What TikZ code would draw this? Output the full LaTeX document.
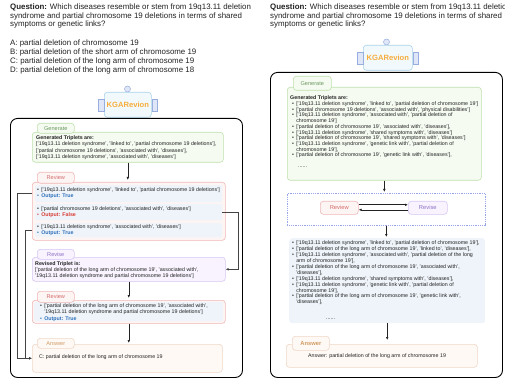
\documentclass[tikz,border=0pt]{standalone}
\usepackage{fontspec}
\setmainfont{Liberation Sans}
\usetikzlibrary{arrows.meta}

\definecolor{ink}{HTML}{222222}
\definecolor{genline}{HTML}{BEE0AC}
\definecolor{genfill}{HTML}{F5FBF1}
\definecolor{gentext}{HTML}{6E9A62}
\definecolor{revline}{HTML}{F0B6B6}
\definecolor{revfill}{HTML}{FDF4F4}
\definecolor{revtext}{HTML}{D56E6C}
\definecolor{rsline}{HTML}{D6C6F2}
\definecolor{rsfill}{HTML}{F8F3FE}
\definecolor{rstext}{HTML}{8E72C6}
\definecolor{ansline}{HTML}{F0D6C6}
\definecolor{ansfill}{HTML}{FEF9F5}
\definecolor{anstext}{HTML}{D09A62}
\definecolor{itemfill}{HTML}{EEF4FA}
\definecolor{truecol}{HTML}{2F6FBA}
\definecolor{falsecol}{HTML}{D93A33}
\definecolor{kgline}{HTML}{A9D3EA}
\definecolor{kgfill}{HTML}{F2F9FD}
\definecolor{kgtabline}{HTML}{98AEDE}
\definecolor{kgtabfill}{HTML}{DFE6F7}
\definecolor{kgtext}{HTML}{F6AD3C}
\definecolor{loopline}{HTML}{9AA6EA}

\tikzset{
  txt/.style={anchor=base west, inner sep=0pt, text=ink},
  small/.style={txt, font=\fontsize{5.3}{6}\selectfont},
  frame/.style={anchor=north west, inner sep=0pt, rounded corners=3pt, line width=0.6pt},
  panel/.style={frame, draw=black, line width=0.9pt, rounded corners=7pt},
  genbox/.style={frame, draw=genline, fill=genfill},
  revbox/.style={frame, draw=revline, fill=revfill},
  rsbox/.style={frame, draw=rsline, fill=rsfill},
  ansbox/.style={frame, draw=ansline, fill=ansfill},
  itembox/.style={anchor=north west, inner sep=0pt, rounded corners=2pt, fill=itemfill},
  tab/.style={frame, rounded corners=3pt, font=\fontsize{5.6}{6}\selectfont},
  kgbox/.style={frame, draw=kgline, fill=kgfill, text=kgtext, font=\fontsize{7.6}{8}\selectfont\bfseries},
  kgtab/.style={inner sep=0pt, draw=kgtabline, fill=kgtabfill, line width=0.5pt, minimum width=5.5, minimum height=12},
  kgdot/.style={circle, inner sep=0pt, draw=kgtabline, fill=kgtabfill, line width=0.5pt, minimum size=6},
  arr/.style={-{Latex[length=3pt,width=2.6pt]}, line width=0.6pt, draw=ink},
  link/.style={arr, draw=ink!85},
}

\begin{document}
\begin{tikzpicture}[x=1pt, y=-1pt]
\useasboundingbox (0,0) rectangle (505,379);

\node[txt, font=\fontsize{7.9}{8.7}\selectfont] (q1) at (10,9.5) {\begin{tabular}[t]{@{}l@{}}
\textbf{Question:} Which diseases resemble or stem from 19q13.11 deletion\\
syndrome and partial chromosome 19 deletions in terms of shared\\
symptoms or genetic links?\end{tabular}};
\node[txt, font=\fontsize{7.9}{8.9}\selectfont] (opts) at (10,46) {\begin{tabular}[t]{@{}l@{}}
A: partial deletion of chromosome 19\\
B: partial deletion of the short arm of chromosome 19\\
C: partial deletion of the long arm of chromosome 19\\
D: partial deletion of the long arm of chromosome 18\end{tabular}};

\node[kgdot] (kg1c) at (127.5,89) {};
\node[kgbox, minimum width=47, minimum height=25] (kg1) at (104,92) {KGARevion};
\node[kgtab, anchor=east] (kg1l) at (kg1.west) {};
\node[kgtab, anchor=west] (kg1r) at (kg1.east) {};

\node[panel, minimum width=232, minimum height=259] (outer1) at (10,118) {};

\node[genbox, minimum width=191, minimum height=30] (gen1) at (32,132) {};
\node[tab, draw=genline, fill=genfill, text=gentext, minimum width=37, minimum height=10] (gen1t) at (37,123) {Generate};
\node[small, font=\fontsize{5.3}{6.3}\selectfont] (gen1x) at (36,139.5) {\begin{tabular}[t]{@{}l@{}}
\textbf{Generated Triplets are:}\\\relax
['19q13.11 deletion syndrome', 'linked to', 'partial chromosome 19 deletions'],\\\relax
['partial chromosome 19 deletions', 'associated with', 'diseases'],\\\relax
['19q13.11 deletion syndrome', 'associated with', 'diseases']\end{tabular}};

\node[revbox, minimum width=193, minimum height=58] (rev1) at (32,182) {};
\node[tab, draw=revline, fill=revfill, text=revtext, minimum width=37, minimum height=11] (rev1t) at (37,172) {Review};
\node[itembox, minimum width=187, minimum height=17] (rev1a) at (35,185) {};
\node[itembox, minimum width=187, minimum height=16] (rev1b) at (35,204) {};
\node[itembox, minimum width=187, minimum height=14] (rev1c) at (35,223) {};
\node[small] (rev1ax) at (37,191.6) {\begin{tabular}[t]{@{}l@{\hspace{2.2pt}}l@{}}
\textbullet & ['19q13.11 deletion syndrome', 'linked to', 'partial chromosome 19 deletions']\\
\color{truecol}\textbullet & \color{truecol}\textbf{Output: True}\end{tabular}};
\node[small] (rev1bx) at (37,210.6) {\begin{tabular}[t]{@{}l@{\hspace{2.2pt}}l@{}}
\textbullet & ['partial chromosome 19 deletions', 'associated with', 'diseases']\\
\color{falsecol}\textbullet & \color{falsecol}\textbf{Output: False}\end{tabular}};
\node[small] (rev1cx) at (37,228.6) {\begin{tabular}[t]{@{}l@{\hspace{2.2pt}}l@{}}
\textbullet & ['19q13.11 deletion syndrome', 'associated with', 'diseases']\\
\color{truecol}\textbullet & \color{truecol}\textbf{Output: True}\end{tabular}};

\node[rsbox, minimum width=193, minimum height=24] (revs1) at (32,257) {};
\node[tab, draw=rsline, fill=rsfill, text=rstext, minimum width=37, minimum height=10] (revs1t) at (37,249) {Revise};
\node[small] (revs1x) at (35,265.6) {\begin{tabular}[t]{@{}l@{}}
\textbf{Revised Triplet is:}\\\relax
['partial deletion of the long arm of chromosome 19', 'associated with',\\\relax
'19q13.11 deletion syndrome and partial chromosome 19 deletions']\end{tabular}};

\node[revbox, minimum width=193, minimum height=23] (rev2) at (32,300) {};
\node[itembox, minimum width=189, minimum height=19] (rev2i) at (34,302) {};
\node[tab, draw=revline, fill=revfill, text=revtext, minimum width=37, minimum height=11] (rev2t) at (37,291) {Review};
\node[small, font=\fontsize{5.3}{6.5}\selectfont] (rev2x) at (40,307.4) {\begin{tabular}[t]{@{}l@{\hspace{2.2pt}}l@{}}
\textbullet & ['partial deletion of the long arm of chromosome 19', 'associated with',\\
 & '19q13.11 deletion syndrome and partial chromosome 19 deletions']\\
\color{truecol}\textbullet & \color{truecol}\textbf{Output: True}\end{tabular}};

\node[ansbox, minimum width=190, minimum height=28] (ans1) at (32,344) {};
\node[tab, draw=ansline, fill=ansfill, text=anstext, minimum width=37, minimum height=10] (ans1t) at (37,338) {Answer};
\node[small] (ans1x) at (39,358.6) {C: partial deletion of the long arm of chromosome 19};

\draw[arr, shorten >=2pt] (gen1.south) -- (gen1.south |- rev1.north);
\draw[arr, shorten >=2pt] (revs1.south) -- (revs1.south |- rev2.north);
\draw[arr, shorten >=1pt] (rev2.south) -- (rev2.south |- ans1.north);
\draw[link] (rev1a.west -| rev1.west) -- ++(-15,0) |- (ans1.west);
\draw[link] (rev1c.west -| rev1.west) -- ++(-7,0) |- (ans1.west);
\draw[link] (rev1b.east) -- ++(16,0) |- (revs1.east);

\node[txt, font=\fontsize{7.9}{8.7}\selectfont] (q2) at (270,9.5) {\begin{tabular}[t]{@{}l@{}}
\textbf{Question:} Which diseases resemble or stem from 19q13.11 deletion\\
syndrome and partial chromosome 19 deletions in terms of shared\\
symptoms or genetic links?\end{tabular}};

\node[kgdot] (kg2c) at (386.5,42) {};
\node[kgbox, minimum width=49, minimum height=25] (kg2) at (363,45) {KGARevion};
\node[kgtab, anchor=east] (kg2l) at (kg2.west) {};
\node[kgtab, anchor=west] (kg2r) at (kg2.east) {};

\node[panel, minimum width=232, minimum height=305] (outer2) at (270,72) {};

\node[genbox, minimum width=194, minimum height=93] (gen2) at (287,87) {};
\node[tab, draw=genline, fill=genfill, text=gentext, minimum width=38, minimum height=14] (gen2t) at (293,76) {Generate};
\node[small] (gen2h) at (290,99.8) {\textbf{Generated Triplets are:}};
\node[small, font=\fontsize{5.3}{5.72}\selectfont] (gen2x) at (292,105.5) {\begin{tabular}[t]{@{}l@{\hspace{2.2pt}}l@{}}
\textbullet & ['19q13.11 deletion syndrome', 'linked to', 'partial deletion of chromosome 19']\\
\textbullet & ['partial chromosome 19 deletions', 'associated with', 'physical disabilities']\\
\textbullet & ['19q13.11 deletion syndrome', 'associated with', 'partial deletion of\\
 & chromosome 19']\\
\textbullet & ['partial deletion of chromosome 19', 'associated with', 'diseases'],\\
\textbullet & ['19q13.11 deletion syndrome', 'shared symptoms with', 'diseases']\\
\textbullet & ['partial deletion of chromosome 19', 'shared symptoms with', 'diseases']\\
\textbullet & ['19q13.11 deletion syndrome', 'genetic link with', 'partial deletion of\\
 & chromosome 19'],\\
\textbullet & ['partial deletion of chromosome 19', 'genetic link with', 'diseases'],\end{tabular}};
\node[small] (gen2d) at (298,167.5) {......};

\node[frame, draw=loopline, dash pattern=on 0.9pt off 0.9pt, line width=0.6pt, rounded corners=0pt, minimum width=198, minimum height=32] (loop) at (287,193) {};
\node[frame, draw=revline, fill=revfill, text=revtext, font=\fontsize{5.8}{6}\selectfont, minimum width=38, minimum height=13] (revw) at (320,201) {Review};
\node[frame, draw=rsline, fill=rsfill, text=rstext, font=\fontsize{5.8}{6}\selectfont, minimum width=39, minimum height=13] (revs) at (408,201) {Revise};

\node[itembox, rounded corners=3pt, minimum width=196, minimum height=85] (list) at (289,238) {};
\node[small, font=\fontsize{5.3}{5.9}\selectfont] (listx) at (292,244.8) {\begin{tabular}[t]{@{}l@{\hspace{2.2pt}}l@{}}
\textbullet & ['19q13.11 deletion syndrome', 'linked to', 'partial deletion of chromosome 19'],\\
\textbullet & ['partial deletion of the long arm of chromosome 19', 'linked to', 'diseases'],\\
\textbullet & ['19q13.11 deletion syndrome', 'associated with', 'partial deletion of the long\\
 & arm of chromosome 19'],\\
\textbullet & ['partial deletion of the long arm of chromosome 19', 'associated with',\\
 & 'diseases'],\\
\textbullet & ['19q13.11 deletion syndrome', 'shared symptoms with', 'diseases'],\\
\textbullet & ['19q13.11 deletion syndrome', 'genetic link with', 'partial deletion of\\
 & chromosome 19'],\\
\textbullet & ['partial deletion of the long arm of chromosome 19', 'genetic link with',\\
 & 'diseases'],\end{tabular}};
\node[small] (listd) at (326,319.5) {......};

\node[ansbox, minimum width=191, minimum height=23] (ans2) at (286,344) {};
\node[tab, draw=ansline, fill=ansfill, text=anstext, font=\fontsize{5.8}{6}\selectfont\bfseries, minimum width=37, minimum height=14] (ans2t) at (292,336) {Answer};
\node[small] (ans2x) at (308,357.6) {Answer: partial deletion of the long arm of chromosome 19};

\draw[arr, shorten >=1pt] (gen2.south) -- (gen2.south |- loop.north);
\draw[arr] ([yshift=3pt]revw.east) -- ([yshift=3pt]revs.west);
\draw[arr] ([yshift=-2pt]revs.west) -- ([yshift=-2pt]revw.east);
\draw[arr, shorten >=1pt] (loop.south) -- (loop.south |- list.north);
\draw[arr, shorten >=4pt] (list.south) -- (list.south |- ans2.north);
\end{tikzpicture}
\end{document}
